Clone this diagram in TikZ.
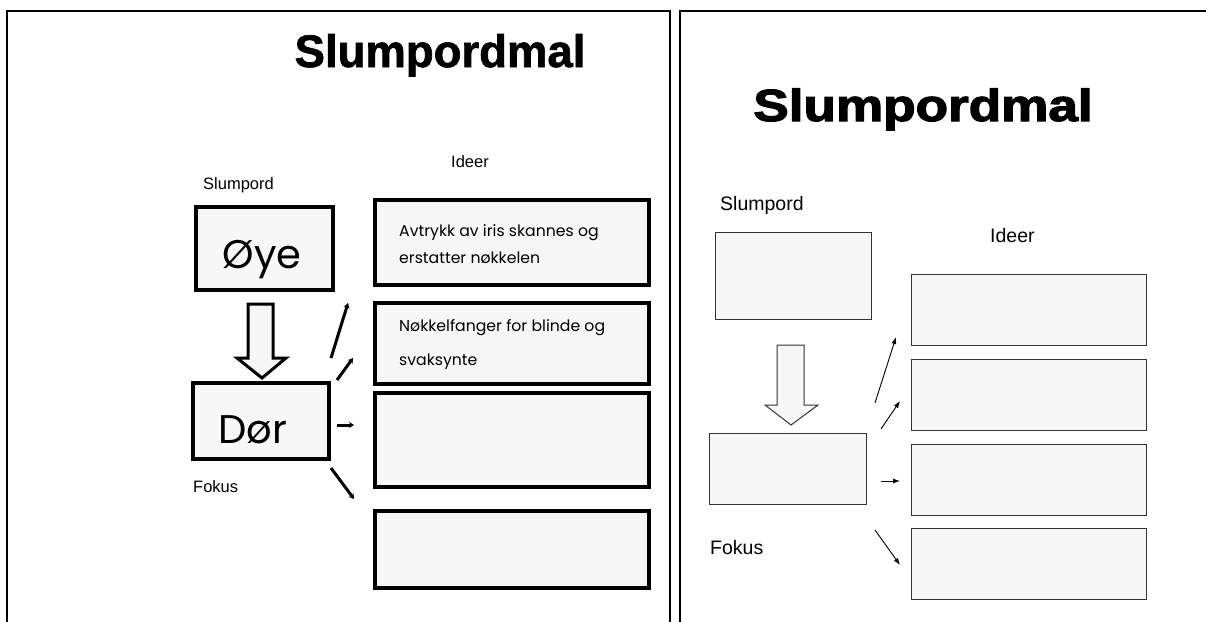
\documentclass[tikz,border=0pt]{standalone}
\usepackage{fontspec}
\setmainfont{Liberation Sans}
\newfontfamily\handfont{Poppins}
\newfontfamily\titlefont{Liberation Sans}[BoldFeatures={FakeBold=1.5}]
\newfontfamily\heavyfont{Liberation Sans}[BoldFeatures={FakeBold=2.5}]
\usetikzlibrary{arrows.meta}
\definecolor{boxfill}{HTML}{F7F7F7}
\tikzset{
  panel/.style={draw=black, line width=2pt},
  thickbox/.style={draw=black, line width=3.2pt, fill=boxfill, inner sep=0pt},
  thinbox/.style={draw=black!80, line width=1pt, fill=boxfill, inner sep=0pt},
  smalllbl/.style={font=\fontsize{16.5}{18}\selectfont, inner sep=0pt, anchor=base west},
  biglbl/.style={font=\fontsize{19.5}{22}\selectfont, inner sep=0pt, anchor=base west},
  handtxt/.style={font=\handfont\fontsize{15.7}{27}\selectfont, inner sep=0pt, anchor=base west, align=left},
  thickarrow/.style={line width=3pt, -{Stealth[length=5pt,width=6pt]}},
  thinarrow/.style={line width=0.9pt, -{Latex[length=7pt,width=5pt]}},
  hollowthick/.style={draw=black, line width=3pt, fill=boxfill, line join=miter},
  hollowthin/.style={draw=black!80, line width=1pt, fill=boxfill},
}
\begin{document}
\begin{tikzpicture}[x=1pt, y=-1pt]
\useasboundingbox (0,0) rectangle (1206,621);
\clip (0,0) rectangle (1206,621);
\fill[white] (0,0) rectangle (1206,621);

% ---------- left panel ----------
\draw[panel] (7,11) rectangle (670,640);
\node[inner sep=0pt, anchor=base, font=\titlefont\bfseries\fontsize{45.5}{50}\selectfont] (t1) at (440,67) {Slumpordmal};
\node[smalllbl] (l1s) at (203,189) {Slumpord};
\node[smalllbl] (l1i) at (451,167) {Ideer};
\node[smalllbl] (l1f) at (193,492) {Fokus};

\path[thickbox] (196,207) rectangle (333,290);
\node[inner sep=0pt, font=\handfont\fontsize{40}{44}\selectfont, anchor=base] (oye) at (262,268) {Øye};
\path[thickbox] (193,383) rectangle (329,459);
\node[inner sep=0pt, font=\handfont\fontsize{40}{44}\selectfont, anchor=base] (dor) at (253,443) {Dør};

\path[hollowthick] (248,304) -- (273,304) -- (273,358) -- (286,358) -- (262,378) -- (237,358) -- (248,358) -- cycle;

\path[thickbox] (375,200) rectangle (649,285);
\path[thickbox] (375,303) rectangle (649,384);
\path[thickbox] (375,393) rectangle (649,487);
\path[thickbox] (375,511) rectangle (649,588);
\node[handtxt] (i1) at (399,263) {Avtrykk av iris skannes og\\erstatter nøkkelen};
\node[handtxt, font=\handfont\fontsize{15.7}{34}\selectfont] (i2) at (399,365) {Nøkkelfanger for blinde og\\svaksynte};

\coordinate (a1s) at (331,358); \coordinate (a1e) at (348,303);
\coordinate (a2s) at (337,380); \coordinate (a2e) at (353,358);
\coordinate (a3s) at (337,425); \coordinate (a3e) at (354,425);
\coordinate (a4s) at (331,468); \coordinate (a4e) at (354,499);
\draw[thickarrow] (a1s) -- (a1e);
\draw[thickarrow] (a2s) -- (a2e);
\draw[thickarrow] (a3s) -- (a3e);
\draw[thickarrow] (a4s) -- (a4e);

% ---------- right panel ----------
\draw[panel] (680,11) rectangle (1230,640);
\node[inner sep=0pt, anchor=base, font=\heavyfont\bfseries\fontsize{45}{50}\selectfont] (t2) at (923,121) {\scalebox{1.18}[1]{Slumpordmal}};
\node[biglbl] (r1s) at (720,210) {Slumpord};
\node[biglbl] (r1i) at (990,242) {Ideer};
\node[biglbl] (r1f) at (710,554) {Fokus};

\path[thinbox] (715,232) rectangle (871,319);
\path[thinbox] (709,433) rectangle (866,504);
\path[hollowthin] (777,345) -- (804,345) -- (804,405) -- (818,405) -- (791,425) -- (765,405) -- (777,405) -- cycle;

\path[thinbox] (911,274) rectangle (1146,345);
\path[thinbox] (911,359) rectangle (1146,430);
\path[thinbox] (911,444) rectangle (1146,515);
\path[thinbox] (911,528) rectangle (1146,599);

\coordinate (b1s) at (875,403); \coordinate (b1e) at (896,337);
\coordinate (b2s) at (881,429); \coordinate (b2e) at (900,401);
\coordinate (b3s) at (881,481); \coordinate (b3e) at (900,481);
\coordinate (b4s) at (875,530); \coordinate (b4e) at (900,565);
\draw[thinarrow] (b1s) -- (b1e);
\draw[thinarrow] (b2s) -- (b2e);
\draw[thinarrow] (b3s) -- (b3e);
\draw[thinarrow] (b4s) -- (b4e);
\end{tikzpicture}
\end{document}
